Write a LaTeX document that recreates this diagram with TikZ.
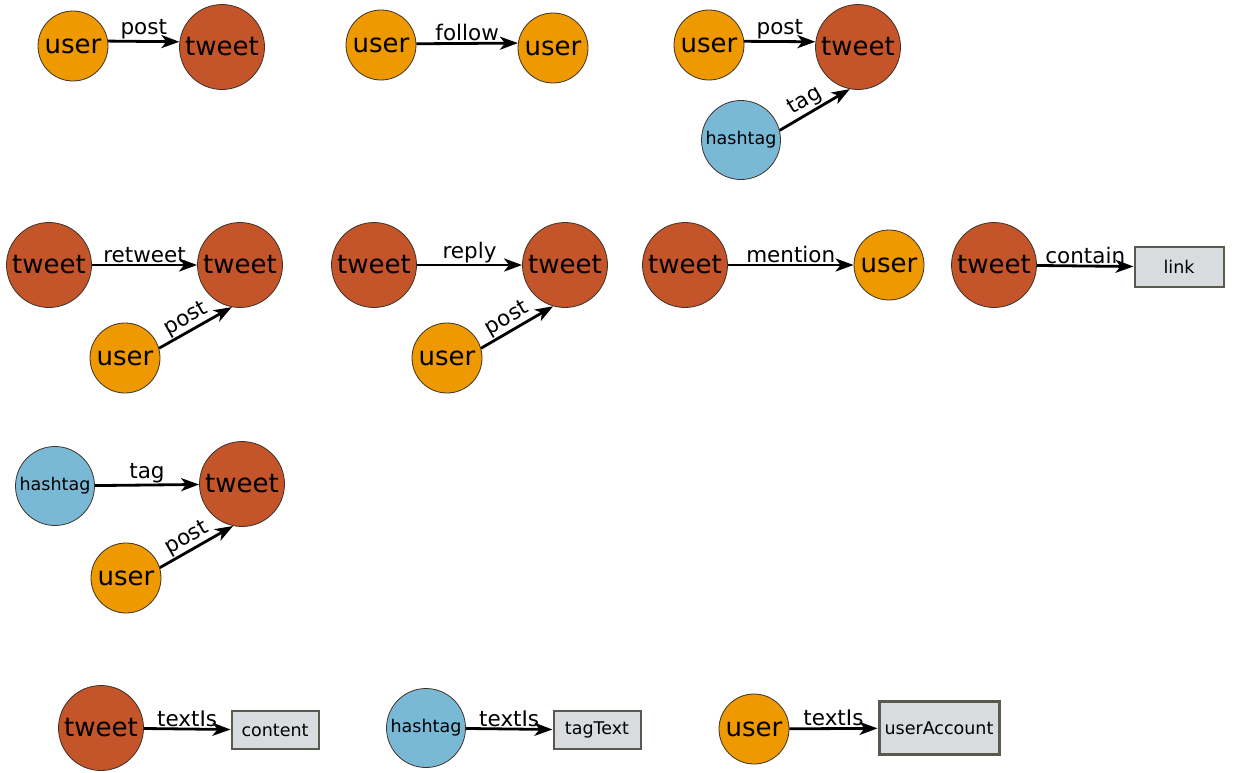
\documentclass[tikz,border=0pt]{standalone}
\usepackage{fontspec}
\setmainfont{DejaVu Sans}
\usetikzlibrary{arrows.meta}
\definecolor{usercol}{RGB}{238,153,0}
\definecolor{tweetcol}{RGB}{196,84,42}
\definecolor{hashcol}{RGB}{122,185,214}
\definecolor{boxfill}{RGB}{216,220,222}
\definecolor{boxborder}{RGB}{88,90,78}
\definecolor{circborder}{RGB}{60,50,40}
\begin{document}
\begin{tikzpicture}[x=1pt,y=-1pt,
  ent/.style={circle, draw=circborder, line width=0.8pt, inner sep=0pt},
  user/.style={ent, fill=usercol, minimum size=70pt, font=\fontsize{26}{26}\selectfont},
  tweet/.style={ent, fill=tweetcol, minimum size=85pt, font=\fontsize{26}{26}\selectfont},
  hash/.style={ent, fill=hashcol, minimum size=79pt, font=\fontsize{17.5}{17.5}\selectfont},
  lit/.style={rectangle, draw=boxborder, line width=2pt, fill=boxfill, minimum width=87pt, minimum height=38pt, inner sep=0pt, font=\fontsize{17.5}{17.5}\selectfont},
  rel/.style={line width=2.8pt, -{Stealth[length=18pt,width=13pt,inset=5pt]}},
  lab/.style={font=\fontsize{21.5}{21.5}\selectfont, inner sep=1pt, above}
]
\useasboundingbox (0,0) rectangle (1234,772);

% row 1
\node[user]  (u1) at (73,46) {user};
\node[tweet] (t1) at (222,47) {tweet};
\draw[rel] (u1.8) -- node[lab]{post} (t1.173);

\node[user] (u2) at (381,45) {user};
\node[user] (u3) at (553,48) {user};
\draw[rel] (u2.2) -- node[lab]{follow} (u3.172);

\node[user]  (u4) at (709,45) {user};
\node[tweet] (t2) at (858,47) {tweet};
\node[hash]  (h1) at (741,140) {hashtag};
\draw[rel] (u4.6) -- node[lab]{post} (t2.173);
\draw[rel] (h1.14) -- node[lab, sloped, pos=0.45]{tag} (t2.-101);

% row 2
\node[tweet] (t3) at (49,265) {tweet};
\node[tweet] (t4) at (240,265) {tweet};
\node[user]  (u5) at (125,358) {user};
\draw[rel] (t3) -- node[lab]{retweet} (t4);
\draw[rel] (u5.16) -- node[lab, sloped, pos=0.45]{post} (t4.-101);

\node[tweet] (t5) at (374,265) {tweet};
\node[tweet] (t6) at (565,265) {tweet};
\node[user]  (u6) at (447,358) {user};
\draw[rel] (t5) -- node[lab]{reply} (t6);
\draw[rel] (u6.16) -- node[lab, sloped, pos=0.45]{post} (t6.-106);

\node[tweet] (t7) at (685,265) {tweet};
\node[user]  (u7) at (889,265) {user};
\draw[rel] (t7) -- node[lab]{mention} (u7);

\node[tweet] (t8) at (994,265) {tweet};
\node[lit, minimum width=89pt, minimum height=40pt] (l1) at (1179,267) {link};
\draw[rel] (t8) -- node[lab]{contain} (l1);

% row 3
\node[hash]  (h2) at (55,486) {hashtag};
\node[tweet] (t9) at (242,484) {tweet};
\node[user]  (u8) at (126,578) {user};
\draw[rel] (h2) -- node[lab]{tag} (t9);
\draw[rel] (u8.17) -- node[lab, sloped, pos=0.45]{post} (t9.-102);

% row 4
\node[tweet] (t10) at (101,728) {tweet};
\node[lit]   (l2) at (275,730) {content};
\draw[rel] (t10) -- node[lab]{textIs} (l2);

\node[hash] (h3) at (426,728) {hashtag};
\node[lit]  (l3) at (597,730) {tagText};
\draw[rel] (h3) -- node[lab]{textIs} (l3);

\node[user] (u9) at (754,729) {user};
\node[lit, line width=3pt, minimum width=120pt, minimum height=53pt] (l4) at (939,728) {userAccount};
\draw[rel] (u9) -- node[lab]{textIs} (l4);
\end{tikzpicture}
\end{document}
